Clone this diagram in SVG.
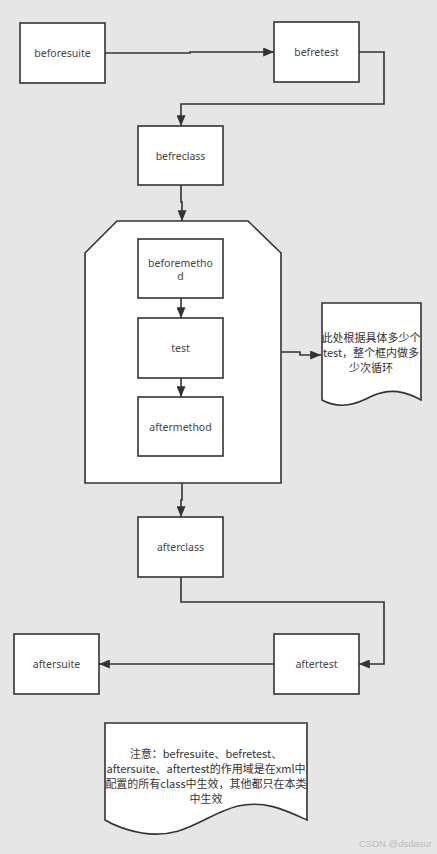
<svg xmlns="http://www.w3.org/2000/svg" width="437" height="854" viewBox="0 0 437 854">
<defs>
<style>
.box{fill:#fff;stroke:#333;stroke-width:1.6}
.lbl{font-family:"Noto Sans","Noto Sans CJK SC",sans-serif;font-size:10.5px;fill:#444;text-anchor:middle;dominant-baseline:central}
.cn{font-family:"Noto Sans CJK SC","Noto Sans",sans-serif;font-size:11px;fill:#333;text-anchor:middle;dominant-baseline:central}
.conn{fill:none;stroke:#333;stroke-width:1.6}
</style>
<marker id="arrL" viewBox="0 0 12 10" refX="12" refY="5" markerWidth="12" markerHeight="9" markerUnits="userSpaceOnUse" orient="auto">
<path d="M0,0 L12,5 L0,10 Z" fill="#333"/>
</marker>
</defs>
<rect width="437" height="854" fill="#e6e6e6"/>
<g id="loop"><path class="box" d="M117,221 H248 L281,253 V483 H85 V253 Z"/></g>
<g id="connectors">
<path class="conn" d="M105,53 H190 V52 H274" marker-end="url(#arrL)"/>
<path class="conn" d="M359,52 H384 V104 H181 V126" marker-end="url(#arrL)"/>
<path class="conn" d="M181,185 V202 H182 V221" marker-end="url(#arrL)"/>
<path class="conn" d="M181,298 V318" marker-end="url(#arrL)"/>
<path class="conn" d="M181,378 V397" marker-end="url(#arrL)"/>
<path class="conn" d="M182,483 V500 H181 V517" marker-end="url(#arrL)"/>
<path class="conn" d="M281,352 H300 V355 H321" marker-end="url(#arrL)"/>
<path class="conn" d="M181,577 V602 H384 V664 H359" marker-end="url(#arrL)"/>
<path class="conn" d="M274,664 H99" marker-end="url(#arrL)"/>
</g>
<g id="beforesuite"><rect class="box" x="20" y="23" width="85" height="60"/><text class="lbl" x="62.5" y="53">beforesuite</text></g>
<g id="befretest"><rect class="box" x="274" y="22" width="85" height="60"/><text class="lbl" x="316.5" y="52">befretest</text></g>
<g id="befreclass"><rect class="box" x="138" y="126" width="85" height="59"/><text class="lbl" x="180.5" y="156">befreclass</text></g>
<g id="beforemethod"><rect class="box" x="138" y="239" width="85" height="59"/><text class="lbl" x="180.5" y="262.5">beforemetho</text><text class="lbl" x="180.5" y="276">d</text></g>
<g id="test"><rect class="box" x="138" y="318" width="85" height="60"/><text class="lbl" x="180.5" y="348">test</text></g>
<g id="aftermethod"><rect class="box" x="138" y="397" width="85" height="59"/><text class="lbl" x="180.5" y="427">aftermethod</text></g>
<g id="note1"><path class="box" d="M322,303 H421 V400 C405,391 390,388 372,396 C357,404 340,410 322,400 Z"/>
<text class="cn" x="371" y="337">此处根据具体多少个</text>
<text class="cn" x="371" y="352">test，整个框内做多</text>
<text class="cn" x="371" y="367">少次循环</text></g>
<g id="afterclass"><rect class="box" x="138" y="517" width="85" height="60"/><text class="lbl" x="180.5" y="547">afterclass</text></g>
<g id="aftertest"><rect class="box" x="274" y="634" width="85" height="60"/><text class="lbl" x="316.5" y="664">aftertest</text></g>
<g id="aftersuite"><rect class="box" x="14" y="634" width="85" height="60"/><text class="lbl" x="56.5" y="664">aftersuite</text></g>
<g id="note2"><path class="box" d="M105,723 H307 V820 C285,810 265,800 238,806 C205,814 185,840 142,833 C125,830 115,826 105,820 Z"/>
<text class="cn" x="206" y="753">注意：befresuite、befretest、</text>
<text class="cn" x="206" y="768">aftersuite、aftertest的作用域是在xml中</text>
<text class="cn" x="206" y="783">配置的所有class中生效，其他都只在本类</text>
<text class="cn" x="206" y="798">中生效</text></g>
<text x="432" y="843" font-family="'Liberation Sans',sans-serif" font-size="9.5" fill="#bbb" text-anchor="end" dominant-baseline="central">CSDN @dsdasur</text>
</svg>
